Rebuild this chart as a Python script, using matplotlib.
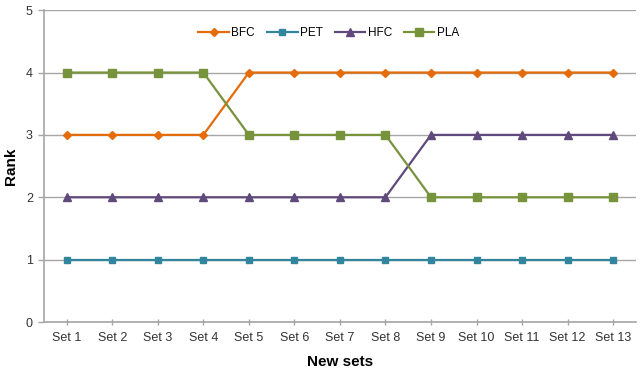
import matplotlib
matplotlib.use("Agg")
import matplotlib.pyplot as plt

plt.rcParams["font.family"] = ["Liberation Sans", "DejaVu Sans"]

sets = [f"Set {i}" for i in range(1, 14)]
bfc = [3, 3, 3, 3, 4, 4, 4, 4, 4, 4, 4, 4, 4]
pet = [1, 1, 1, 1, 1, 1, 1, 1, 1, 1, 1, 1, 1]
hfc = [2, 2, 2, 2, 2, 2, 2, 2, 3, 3, 3, 3, 3]
pla = [4, 4, 4, 4, 3, 3, 3, 3, 2, 2, 2, 2, 2]

fig = plt.figure(figsize=(6.41, 3.76), dpi=100)
ax = fig.add_axes([0.0686, 0.1436, 0.9234, 0.8294])

x = list(range(len(sets)))
ax.plot(x, bfc, color="#E46C0A", marker="D", markersize=4, lw=1.6, label="BFC", zorder=3)
ax.plot(x, pet, color="#31859C", marker="s", markersize=5, lw=1.6, label="PET", zorder=3)
ax.plot(x, hfc, color="#604A7B", marker="^", markersize=5.5, lw=1.6, label="HFC", zorder=3)
ax.plot(x, pla, color="#77933C", marker="s", markersize=5.5, lw=1.6, label="PLA", zorder=3)

ax.set_xlim(-0.5, len(sets) - 0.5)
ax.set_ylim(0, 5)
ax.set_yticks(range(6))
ax.set_xticks(x)
ax.set_xticklabels(sets)
ax.tick_params(axis="both", labelsize=9, colors="#333333", length=4, width=1)
ax.tick_params(axis="x", direction="inout", pad=5, color="#a6a6a6")
ax.tick_params(axis="y", direction="out", pad=4, color="#a6a6a6")
ax.grid(axis="y", color="#a6a6a6", lw=1)
ax.set_axisbelow(True)
for s in ["top", "right"]:
    ax.spines[s].set_visible(False)
for s in ["left", "bottom"]:
    ax.spines[s].set_color("#a6a6a6")
    ax.spines[s].set_linewidth(1.2)

ax.set_xlabel("New sets", fontsize=11, fontweight="bold", labelpad=8)
ax.set_ylabel("Rank", fontsize=11, fontweight="bold")
ax.yaxis.set_label_coords(-0.044, 0.5)

ax.legend(loc="upper center", bbox_to_anchor=(0.481, 0.98), ncol=4, frameon=False,
          fontsize=8.5, handlelength=2.6, columnspacing=1.0, handletextpad=0.2)

fig.savefig("out.png", dpi=100)
